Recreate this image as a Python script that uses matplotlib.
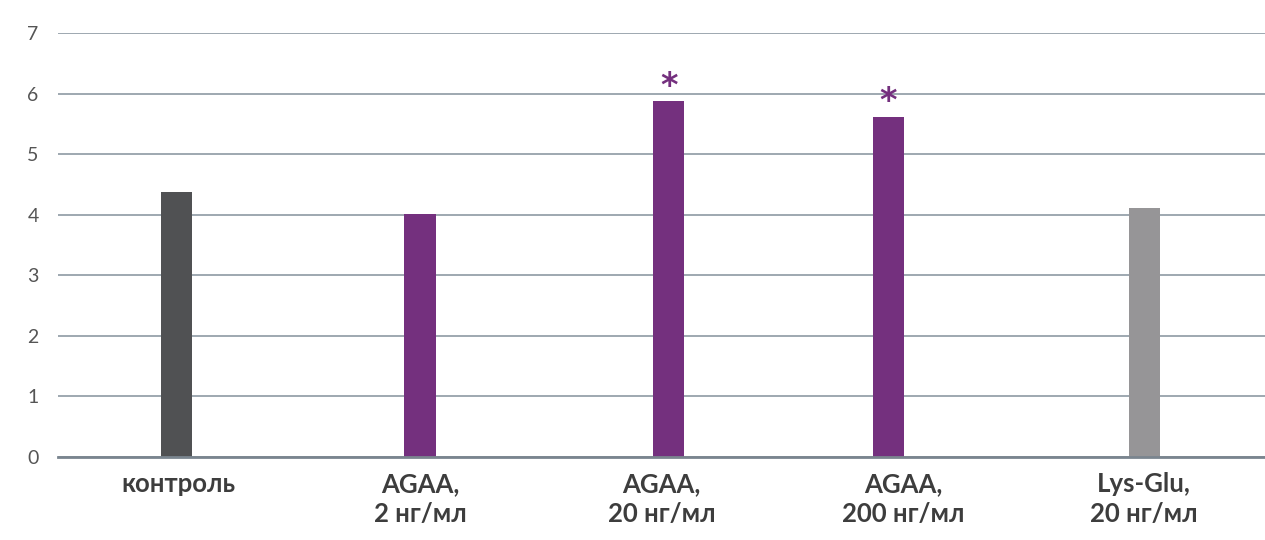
import matplotlib
matplotlib.use("Agg")
import matplotlib.pyplot as plt
import numpy as np

# data
categories = ["контроль", "AGAA,\n2 нг/мл", "AGAA,\n20 нг/мл", "AGAA,\n200 нг/мл", "Lys-Glu,\n20 нг/мл"]
values = [4.37, 4.01, 5.87, 5.62, 4.11]
significant = [False, False, True, True, False]
y_ticks = [0, 1, 2, 3, 4, 5, 6, 7]

# layout / style
bar_colors = ["#505153", "#74307e", "#74307e", "#74307e", "#969597"]
bar_shift = [-0.01, 0.0, 0.03, -0.06, 0.0]
bar_width = 0.13
grid_color = "#8d99a3"

plt.rcParams['font.family'] = ['Lato', 'DejaVu Sans']

fig = plt.figure(figsize=(12.65, 5.4), dpi=100)
ax = fig.add_axes([58 / 1265, 1 - 457 / 540, 1 - 58 / 1265, (457 - 33) / 540])

x = np.arange(len(categories))
xb = x + np.array(bar_shift)
ax.bar(xb, values, width=bar_width, color=bar_colors, zorder=3)

for xi, v, sig in zip(xb, values, significant):
    if sig:
        ax.annotate("*", (xi, v), xytext=(0, -1), textcoords="offset points",
                    ha="center", va="bottom", fontsize=24, fontweight="bold",
                    color="#74307e", family="DejaVu Sans")

ax.set_xlim(-0.5, len(categories) - 0.5)
ax.set_ylim(0, 7)
ax.set_yticks(y_ticks)
ax.set_yticklabels([str(t) for t in y_ticks], fontsize=14, color="#555555")
ax.set_xticks(x)
ax.set_xticklabels(categories, fontsize=18.5, fontweight="bold", color="#3d3d3d",
                   linespacing=1.3)
ax.tick_params(axis="y", length=0, pad=14)
ax.tick_params(axis="x", length=0, pad=11)

ax.yaxis.grid(True, color=grid_color, linewidth=1.2, zorder=0)
for s in ["top", "right", "left"]:
    ax.spines[s].set_visible(False)
ax.spines["bottom"].set_color("#7a858f")
ax.spines["bottom"].set_linewidth(2)
ax.spines["bottom"].set_zorder(4)

fig.savefig("out.png", dpi=100)
